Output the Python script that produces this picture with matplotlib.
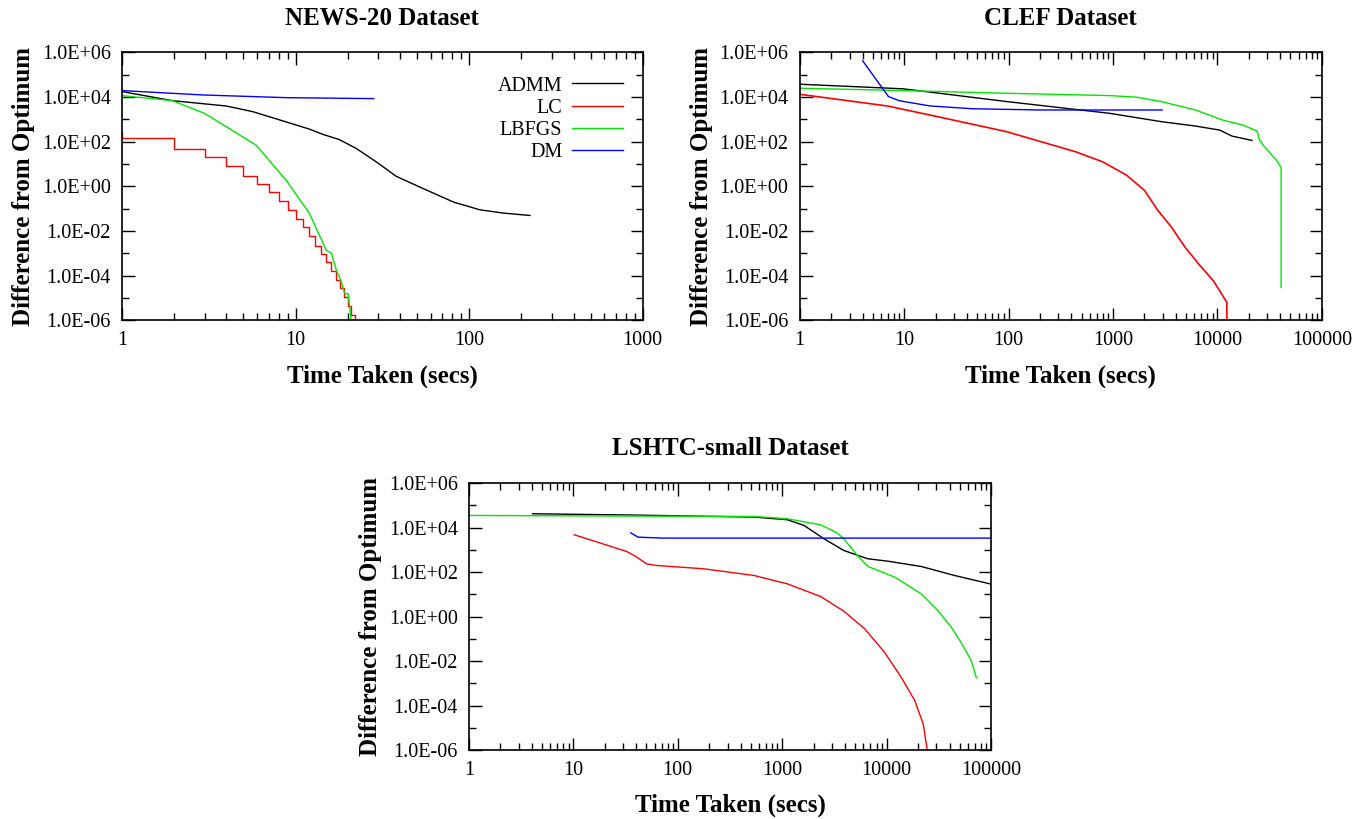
import numpy as np
import matplotlib.pyplot as plt
from matplotlib.ticker import LogLocator, FixedLocator, FuncFormatter, NullFormatter

plt.rcParams['font.family'] = ['Liberation Serif', 'DejaVu Serif']

# NEWS-20
news_admm_t = [1, 1.95, 3.98, 5.68, 12.0, 14.4, 17.8, 22.4, 29.2, 38.0, 51.9, 81.3, 115, 158, 224]
news_admm_d = [1.76e4, 6.9e3, 3.98e3, 2.21e3, 367, 211, 126, 49.5, 12.4, 2.82, 0.93, 0.197, 0.089, 0.063, 0.0495]
news_lc_t = [0.9, 1, 2, 3, 4, 5, 6, 7, 8, 9, 10, 11, 12, 13, 14, 15, 16, 17, 18, 19, 20, 21, 22]
news_lc_d = [279, 140, 46, 21, 8.2, 3.0, 1.32, 0.56, 0.22, 0.083, 0.035, 0.0148, 6.0e-3, 2.2e-3,
             9.3e-4, 3.9e-4, 1.55e-4, 6.3e-5, 2.8e-5, 1.1e-5, 4.3e-6, 1.7e-6, 5e-7]
news_lbfgs_t = [1, 1.95, 2.99, 5.93, 8.83, 12.0, 15.0, 16.1, 17.2, 18.2, 19.2, 20.1, 20.9, 21.2]
news_lbfgs_d = [1.16e4, 6.9e3, 1.86e3, 70, 1.86, 0.063, 1.4e-3, 1.0e-3, 1.7e-4, 6.3e-5, 1.6e-5,
                1.5e-5, 1e-6, 3e-7]
news_dm_t = [1, 2.92, 8.83, 28.2]
news_dm_d = [1.95e4, 1.24e4, 9.4e3, 8.5e3]

# CLEF
clef_admm_t = [1, 9.77, 95.5, 933, 2880, 6170, 10500, 13800, 21400]
clef_admm_d = [3.76e4, 2.34e4, 6.3e3, 1.86e3, 794, 501, 331, 178, 114]
clef_lc_t = [1, 6.92, 20.9, 95.5, 437, 794, 1350, 2000, 2690, 3630, 4900, 6610, 9120, 11000, 12300, 12310]
clef_lc_d = [1.33e4, 3.98e3, 1.32e3, 282, 35.5, 12.6, 3.16, 0.66, 0.083, 0.0148, 1.86e-3, 3.3e-4,
             5.9e-5, 1.48e-5, 6.3e-6, 1e-7]
clef_lbfgs_t = [1, 9.77, 95.5, 933, 1700, 2880, 6170, 11200, 17400, 24000, 25100, 28200, 36700,
                40700, 40710]
clef_lbfgs_d = [2.48e4, 1.95e4, 1.48e4, 1.16e4, 9.8e3, 6.3e3, 2.63e3, 933, 562, 299, 126, 58.9,
                14.8, 6.9, 2.95e-5]
clef_dm_t = [4.01, 7.08, 9.04, 17.8, 44.7, 204, 2950]
clef_dm_d = [4.2e5, 1.05e4, 6.8e3, 3.98e3, 3.0e3, 2.63e3, 2.63e3]

# LSHTC-small
lshtc_admm_t = [4.07, 39.8, 537, 1120, 1620, 2510, 3890, 6610, 10200, 21400, 44700, 97700]
lshtc_admm_d = [4.17e4, 3.63e4, 2.95e4, 2.24e4, 1.24e4, 3.13e3, 933, 394, 309, 178, 70, 29.5]
lshtc_lc_t = [10.2, 19.1, 32.4, 39.8, 50.1, 63.1, 178, 537, 1120, 2340, 3890, 6170, 9550, 13800,
              18600, 22400, 24500, 24700]
lshtc_lc_d = [4.73e3, 1.86e3, 841, 501, 234, 197, 140, 70, 29.5, 7.9, 1.74, 0.279, 0.0248,
              1.86e-3, 1.66e-4, 1.48e-5, 1e-6, 1e-7]
lshtc_lbfgs_t = [1, 39.8, 537, 1120, 2340, 3390, 3890, 5250, 6610, 8320, 12000, 14800, 21400,
                 30900, 41700, 52500, 64600, 72400]
lshtc_lbfgs_d = [3.5e4, 3.27e4, 3.16e4, 2.48e4, 1.33e4, 5.6e3, 3.13e3, 556, 178, 117, 58.9, 31.6,
                 10.5, 1.86, 0.33, 0.059, 0.0105, 1.74e-3]
lshtc_dm_t = [35.5, 41.7, 72.4, 100000]
lshtc_dm_d = [5.8e3, 3.7e3, 3.35e3, 3.35e3]

GREEN = '#00e600'


def style_axes(ax, title, xmax):
    ax.set_xscale('log')
    ax.set_yscale('log')
    ax.set_xlim(1, xmax)
    ax.set_ylim(1e-6, 1e6)
    ax.set_title(title, fontsize=18, fontweight='bold', pad=20)
    ax.set_xlabel('Time Taken (secs)', fontsize=18, fontweight='bold', labelpad=10)
    ax.set_ylabel('Difference from Optimum', fontsize=18, fontweight='bold', labelpad=5)
    xt = [10.0 ** k for k in range(int(np.log10(xmax)) + 1)]
    ax.xaxis.set_major_locator(FixedLocator(xt))
    ax.xaxis.set_major_formatter(FuncFormatter(lambda v, p: '%d' % round(v)))
    ax.xaxis.set_minor_locator(LogLocator(base=10, subs=np.arange(2, 10), numticks=20))
    ax.xaxis.set_minor_formatter(NullFormatter())
    ax.yaxis.set_major_locator(FixedLocator([10.0 ** k for k in range(-6, 7, 2)]))
    ax.yaxis.set_major_formatter(FuncFormatter(lambda v, p: '1.0E%+03d' % round(np.log10(v))))
    ax.yaxis.set_minor_locator(FixedLocator([10.0 ** k for k in range(-5, 6, 2)]))
    ax.yaxis.set_minor_formatter(NullFormatter())
    ax.tick_params(which='both', direction='in', top=True, right=True, labelsize=14.5, pad=8)
    ax.tick_params(which='major', length=9, width=1)
    ax.tick_params(which='minor', length=5, width=1)
    for s in ax.spines.values():
        s.set_linewidth(1.2)


fig = plt.figure(figsize=(13.67, 8.19), dpi=100)
ax1 = fig.add_axes([0.0892, 0.609, 0.381, 0.327])
ax2 = fig.add_axes([0.585, 0.609, 0.382, 0.327])
ax3 = fig.add_axes([0.343, 0.0842, 0.382, 0.326])

ax1.plot(news_admm_t, news_admm_d, color='black', lw=1, label='ADMM')
ax1.plot(news_lc_t, news_lc_d, color='red', lw=1, drawstyle='steps-post', label='LC')
ax1.plot(news_lbfgs_t, news_lbfgs_d, color=GREEN, lw=1, label='LBFGS')
ax1.plot(news_dm_t, news_dm_d, color='blue', lw=1, label='DM')
style_axes(ax1, 'NEWS-20 Dataset', 1000)
ax1.legend(loc='upper right', frameon=False, markerfirst=False, fontsize=14.5,
           handlelength=2.5, handletextpad=0.5, labelspacing=0.15,
           bbox_to_anchor=(0.9965, 0.978))

ax2.plot(clef_admm_t, clef_admm_d, color='black', lw=1)
ax2.plot(clef_lc_t, clef_lc_d, color='red', lw=1.2)
ax2.plot(clef_lbfgs_t, clef_lbfgs_d, color=GREEN, lw=1)
ax2.plot(clef_dm_t, clef_dm_d, color='blue', lw=1)
style_axes(ax2, 'CLEF Dataset', 100000)

ax3.plot(lshtc_admm_t, lshtc_admm_d, color='black', lw=1)
ax3.plot(lshtc_lc_t, lshtc_lc_d, color='red', lw=1)
ax3.plot(lshtc_lbfgs_t, lshtc_lbfgs_d, color=GREEN, lw=1)
ax3.plot(lshtc_dm_t, lshtc_dm_d, color='blue', lw=1)
style_axes(ax3, 'LSHTC-small Dataset', 100000)

fig.savefig('out.png', dpi=100)
